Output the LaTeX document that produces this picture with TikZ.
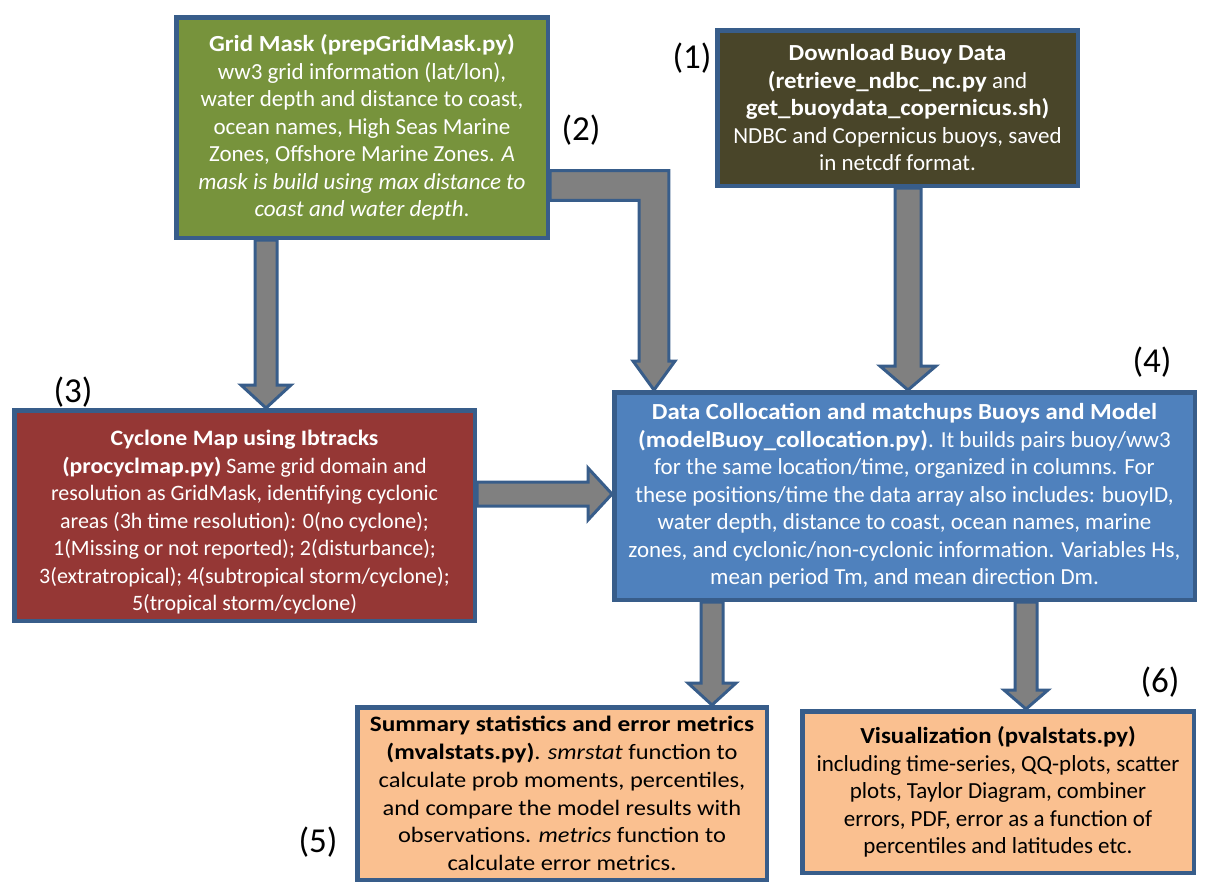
\documentclass[tikz,border=0pt]{standalone}
\usepackage{fontspec}
\setmainfont{Carlito}[BoldFeatures={FakeStretch=1.08}]
\newfontfamily\statfont{Carlito}[UprightFeatures={FakeStretch=1.11},
  ItalicFeatures={FakeStretch=1.11}, BoldFeatures={FakeStretch=1.15}]
\usetikzlibrary{calc}
\definecolor{bord}{RGB}{56,93,138}
\definecolor{gridgreen}{RGB}{119,147,60}
\definecolor{buoybrown}{RGB}{73,69,41}
\definecolor{cycred}{RGB}{149,55,53}
\definecolor{collblue}{RGB}{79,129,189}
\definecolor{statorange}{RGB}{250,192,144}
\definecolor{arrgray}{RGB}{128,128,128}

\begin{document}
\begin{tikzpicture}[x=0.5pt,y=-0.5pt]
\tikzset{box style/.style = {draw=bord, line width=2.25pt, align=center, inner sep=0pt,
    font=\fontsize{11.5}{13.75}\selectfont},
  num style/.style = {font=\fontsize{17.5}{20}\selectfont},
  shaft w/.store in=\shaftw, head w/.store in=\headw, head l/.store in=\headl,
  fat style/.style = {draw=bord, fill=arrgray, line width=1.5pt, line join=miter},
  fat down/.style = {fat style, to path={let \p1=(\tikztostart), \p2=(\tikztotarget) in
    (\x1-\shaftw,\y1) -- (\x1-\shaftw,\y2+\headl) -- (\x1-\headw,\y2+\headl) -- (\x1,\y2)
    -- (\x1+\headw,\y2+\headl) -- (\x1+\shaftw,\y2+\headl) -- (\x1+\shaftw,\y1) -- cycle}},
  fat right/.style = {fat style, to path={let \p1=(\tikztostart), \p2=(\tikztotarget) in
    (\x1,\y1+\shaftw) -- (\x2-\headl,\y1+\shaftw) -- (\x2-\headl,\y1+\headw) -- (\x2,\y1)
    -- (\x2-\headl,\y1-\headw) -- (\x2-\headl,\y1-\shaftw) -- (\x1,\y1-\shaftw) -- cycle}},
  fat elbow/.style = {fat style, to path={let \p1=(\tikztostart), \p2=(\tikztotarget) in
    (\x1,\y1+\shaftw) -- (\x2+\shaftw,\y1+\shaftw) -- (\x2+\shaftw,\y2+\headl)
    -- (\x2+\headw,\y2+\headl) -- (\x2,\y2) -- (\x2-\headw,\y2+\headl)
    -- (\x2-\shaftw,\y2+\headl) -- (\x2-\shaftw,\y1-\shaftw) -- (\x1,\y1-\shaftw) -- cycle}}}
\useasboundingbox (0,0) rectangle (1209,889);

\node[box style, fill=gridgreen, text=white, minimum width=185.75pt, minimum height=110.25pt]
  (grid) at (362,127.5) {\textbf{Grid Mask (prepGridMask.py)}\\
  ww3 grid information (lat/lon),\\ water depth and distance to coast,\\
  ocean names, High Seas Marine\\ Zones, Offshore Marine Zones. \textit{A}\\
  \textit{mask is build using max distance to}\\ \textit{coast and water depth}.};
\node[box style, fill=buoybrown, text=white, minimum width=180.25pt, minimum height=77.75pt]
  (buoy) at (897.5,108) {\textbf{Download Buoy Data}\\
  \textbf{(retrieve\_ndbc\_nc.py} and\\ \textbf{get\_buoydata\_copernicus.sh)}\\
  NDBC and Copernicus buoys, saved\\ in netcdf format.};
\node[box style, fill=cycred, text=white, minimum width=230.25pt, minimum height=105.25pt,
  font=\fontsize{11}{13.75}\selectfont]
  (cyc) at (244.5,515.5) {\rule{0pt}{14.5pt}\textbf{Cyclone Map using Ibtracks}\\
  \textbf{(procyclmap.py)} Same grid domain and\\
  resolution as GridMask, identifying cyclonic\\
  areas (3h time resolution): 0(no cyclone);\\
  1(Missing or not reported); 2(disturbance);\\
  3(extratropical); 4(subtropical storm/cyclone);\\ 5(tropical storm/cyclone)};
\node[box style, fill=collblue, text=white, minimum width=290.25pt, minimum height=103.75pt]
  (coll) at (904.5,496) {\textbf{Data Collocation and matchups Buoys and Model}\\
  \textbf{(modelBuoy\_collocation.py)}. It builds pairs buoy/ww3\\
  for the same location/time, organized in columns. For\\
  these positions/time the data array also includes: buoyID,\\
  water depth, distance to coast, ocean names, marine\\
  zones, and cyclonic/non-cyclonic information. Variables Hs,\\
  mean period Tm, and mean direction Dm.};
\node[box style, fill=statorange, minimum width=204.75pt, minimum height=86.25pt,
  font=\statfont\fontsize{11}{13.9}\selectfont]
  (stats) at (562,793.5) {\textbf{Summary statistics and error metrics}\\
  \textbf{(mvalstats.py)}. \textit{smrstat} function to\\
  calculate prob moments, percentiles,\\ and compare the model results with\\
  observations. \textit{metrics} function to\\ calculate error metrics.};
\node[box style, fill=statorange, minimum width=195.75pt, minimum height=80.75pt]
  (vis) at (998,792) {\textbf{Visualization (pvalstats.py)}\\
  including time-series, QQ-plots, scatter\\ plots, Taylor Diagram, combiner\\
  errors, PDF, error as a function of\\ percentiles and latitudes etc.};

\node[num style] (n1) at (692,58) {(1)};
\node[num style] (n2) at (581,130) {(2)};
\node[num style] (n3) at (73,392) {(3)};
\node[num style] (n4) at (1152,362) {(4)};
\node[num style] (n5) at (318,842) {(5)};
\node[num style] (n6) at (1160,682) {(6)};

\draw[fat down, shaft w=5.5pt, head w=12.5pt, head l=11.5pt]
  ([xshift=-48pt]grid.south) to (cyc.north);
\draw[fat elbow, shaft w=7.4pt, head w=10.5pt, head l=14.5pt]
  ([yshift=-29pt]grid.east) to ([xshift=-125.25pt]coll.north);
\draw[fat down, shaft w=6.5pt, head w=14pt, head l=12pt]
  ([xshift=5.25pt]buoy.south) to (coll.north);
\draw[fat right, shaft w=6pt, head w=13pt, head l=12pt]
  ([yshift=10.75pt]cyc.east) to (coll.west);
\draw[fat down, shaft w=5.5pt, head w=12pt, head l=11pt]
  ([xshift=-96.25pt]coll.south) to (stats.north);
\draw[fat down, shaft w=5.5pt, head w=11pt, head l=9.5pt]
  ([xshift=60.75pt]coll.south) to (vis.north);
\end{tikzpicture}
\end{document}
